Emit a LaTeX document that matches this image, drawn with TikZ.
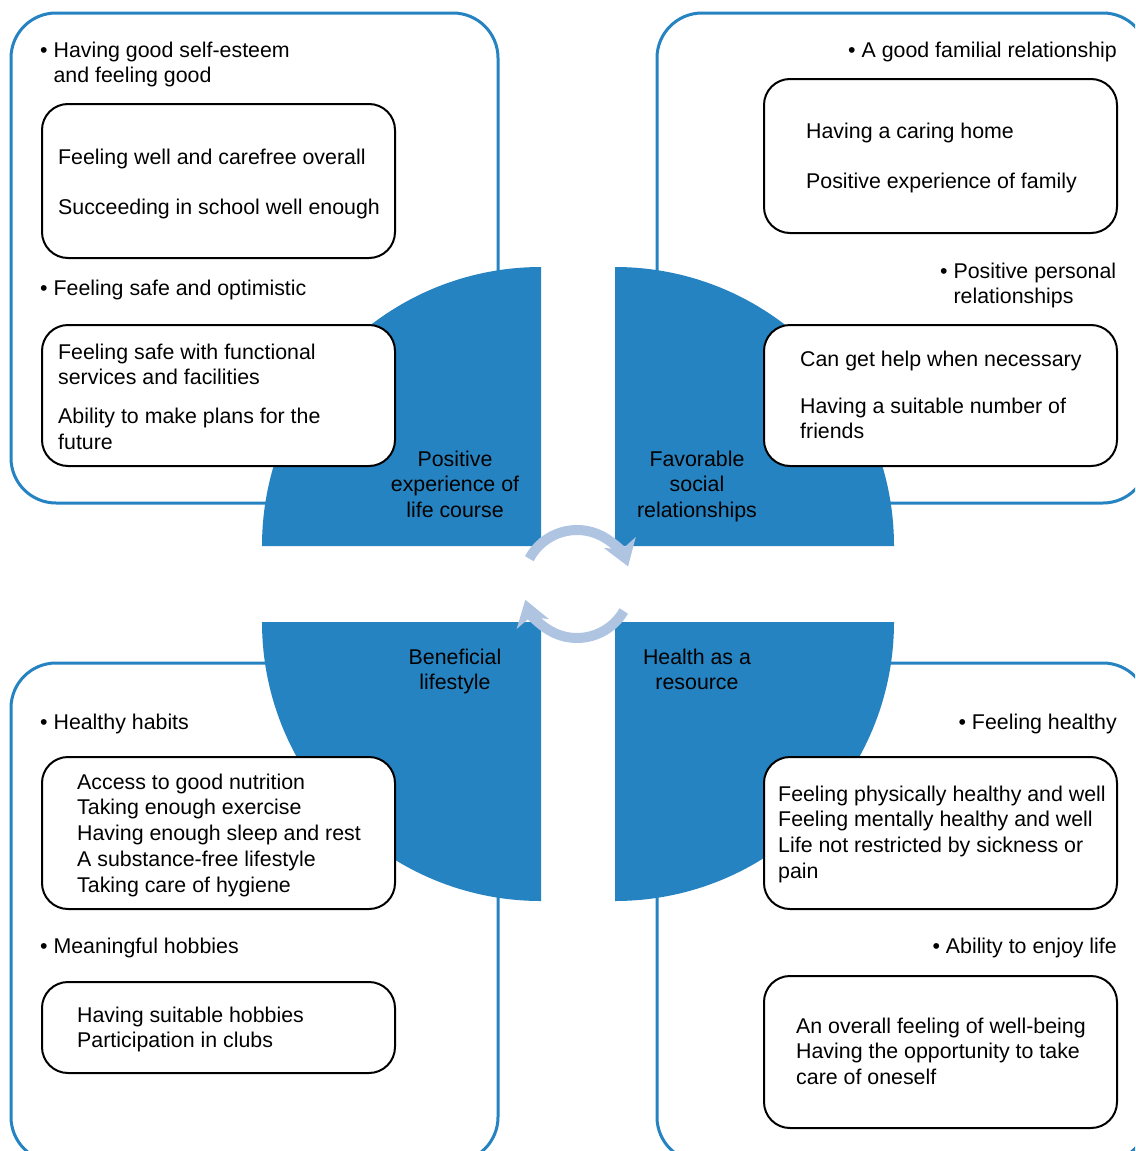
\documentclass[tikz,border=0pt]{standalone}
\usepackage{fontspec}
\setmainfont{Liberation Sans}
\usetikzlibrary{arrows.meta}
\definecolor{wheelblue}{RGB}{38,131,193}
\definecolor{arrowblue}{RGB}{174,196,224}
\tikzset{
  outerbox/.style={draw=wheelblue, line width=3pt, rounded corners=45pt},
  quarter/.style={fill=wheelblue},
  innerbox/.style={draw=black, line width=2pt, fill=white, rounded corners=26pt, inner sep=0pt},
  txt/.style={font=\fontsize{21.35pt}{25.7pt}\selectfont, inner sep=0pt, align=left},
  labtxt/.style={txt, align=center, anchor=north},
  cyclearrow/.style={draw=arrowblue, line width=10pt, -{Stealth[length=25pt,width=33pt,inset=7pt]}}
}
\begin{document}
\begin{tikzpicture}[x=1pt,y=-1pt]
\useasboundingbox (0,0) rectangle (1135,1151);
\clip (0,0) rectangle (1135,1151);
\draw[outerbox] (11,13) rectangle (498,503);
\draw[outerbox] (657,13) rectangle (1148,503);
\draw[outerbox] (11,663) rectangle (498,1162);
\draw[outerbox] (657,663) rectangle (1148,1162);
\fill[quarter] (541,546) -- ++(-279,0) arc[start angle=180, end angle=270, radius=279] -- cycle;
\fill[quarter] (615,546) -- ++(279,0) arc[start angle=0, end angle=-90, radius=279] -- cycle;
\fill[quarter] (541,622) -- ++(-279,0) arc[start angle=180, end angle=90, radius=279] -- cycle;
\fill[quarter] (615,622) -- ++(279,0) arc[start angle=0, end angle=90, radius=279] -- cycle;
\node[innerbox, minimum width=353pt, minimum height=154pt] (tlbox) at (218.5,181) {};
\node[innerbox, minimum width=353pt, minimum height=141pt] (tlboxb) at (218.5,395.5) {};
\node[innerbox, minimum width=353pt, minimum height=154pt] (trbox) at (940.5,156) {};
\node[innerbox, minimum width=353pt, minimum height=141pt] (trboxb) at (940.5,395.5) {};
\node[innerbox, minimum width=353pt, minimum height=152pt] (blbox) at (218.5,833) {};
\node[innerbox, minimum width=353pt, minimum height=91pt] (blboxb) at (218.5,1027.5) {};
\node[innerbox, minimum width=353pt, minimum height=152pt] (brbox) at (940.5,833) {};
\node[innerbox, minimum width=353pt, minimum height=152pt] (brboxb) at (940.5,1052) {};
\node[txt, anchor=north west] (tlhead) at (40,41.6) {\textbullet\ Having good self-esteem\\\phantom{\textbullet\ }and feeling good};
\node[txt, anchor=north west] (tltext) at (58,148.6) {Feeling well and carefree overall\\[24.3pt]Succeeding in school well enough};
\node[txt, anchor=base west] (tlsub) at (40,295) {\textbullet\ Feeling safe and optimistic};
\node[txt, anchor=north west] (tltextb) at (58,343.6) {Feeling safe with functional\\services and facilities\\[13.3pt]Ability to make plans for the\\future};
\node[labtxt] (tllab) at (455,450.6) {Positive\\experience of\\life course};
\node[txt, anchor=base east] (trhead) at (1117,57) {\textbullet\ A good familial relationship};
\node[txt, anchor=north west] (trtext) at (806,122.6) {Having a caring home\\[24.3pt]Positive experience of family};
\node[txt, anchor=north west] (trsub) at (940,262.6) {\textbullet\ Positive personal\\\phantom{\textbullet\ }relationships};
\node[txt, anchor=north west] (trtextb) at (800,350.6) {Can get help when necessary\\[21.3pt]Having a suitable number of\\friends};
\node[labtxt] (trlab) at (697,450.6) {Favorable\\social\\relationships};
\node[labtxt] (bllab) at (455,648.6) {Beneficial\\lifestyle};
\node[txt, anchor=base west] (blhead) at (40,729) {\textbullet\ Healthy habits};
\node[txt, anchor=north west] (bltext) at (77,773.6) {Access to good nutrition\\Taking enough exercise\\Having enough sleep and rest\\A substance-free lifestyle\\Taking care of hygiene};
\node[txt, anchor=base west] (blsub) at (40,953) {\textbullet\ Meaningful hobbies};
\node[txt, anchor=north west] (bltextb) at (77,1006.6) {Having suitable hobbies\\Participation in clubs};
\node[labtxt] (brlab) at (697,648.6) {Health as a\\resource};
\node[txt, anchor=base east] (brhead) at (1117,729) {\textbullet\ Feeling healthy};
\node[txt, anchor=north west] (brtext) at (778,785.6) {Feeling physically healthy and well\\Feeling mentally healthy and well\\Life not restricted by sickness or\\pain};
\node[txt, anchor=base east] (brsub) at (1117,953) {\textbullet\ Ability to enjoy life};
\node[txt, anchor=north west] (brtextb) at (796,1017.6) {An overall feeling of well-being\\Having the opportunity to take\\care of oneself};
\draw[cyclearrow] (577,584) ++(-152:54) arc[start angle=-152, end angle=-19, radius=54];
\draw[cyclearrow] (577,584) ++(30:54) arc[start angle=30, end angle=163, radius=54];
\end{tikzpicture}
\end{document}
